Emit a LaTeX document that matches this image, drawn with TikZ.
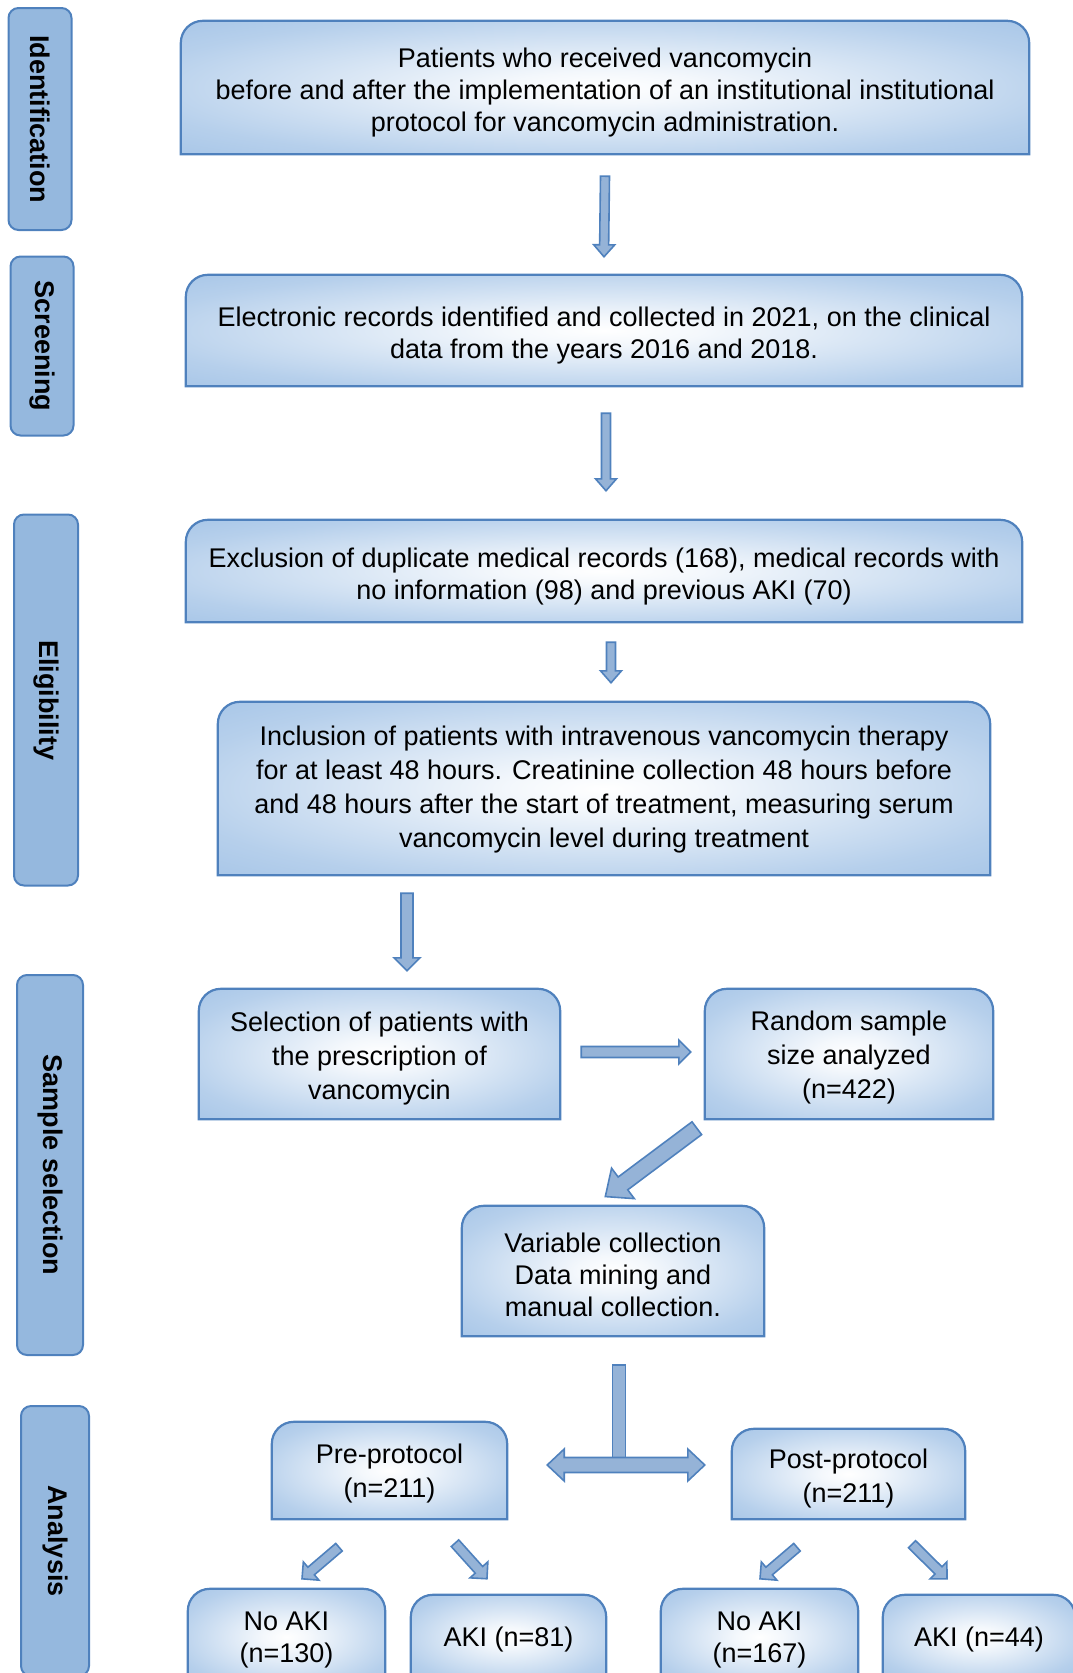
\documentclass[tikz,border=0pt]{standalone}
\usepackage{fontspec}
\setmainfont{Liberation Sans}
\usetikzlibrary{calc, backgrounds}

\definecolor{boxedge}{HTML}{4F81BD}
\definecolor{boxblue}{HTML}{8FB6E1}
\definecolor{arrowblue}{HTML}{95B3D7}
\definecolor{sideblue}{HTML}{95B8DE}

\pgfdeclareradialshading{boxshade}{\pgfpoint{0bp}{0bp}}{color(0bp)=(white); color(6bp)=(white!90!boxblue); color(28bp)=(white!35!boxblue); color(50bp)=(boxblue); color(72bp)=(boxblue)}

\tikzset{
  framebox/.style={inner sep=0pt},
  flowtext/.style={inner sep=0pt, align=center, font=\fontsize{27}{32}\selectfont},
  sidebox/.style={draw=boxedge, line width=2pt, fill=sideblue, rounded corners=10pt,
    inner sep=0pt, font=\bfseries\fontsize{27}{32}\selectfont},
  boxback/.style={draw=boxedge, line width=2.2pt, shading=boxshade},
  blockarrow/.style={draw=boxedge, line width=1.6pt, fill=arrowblue},
}

% box with rounded top corners round node #1
\newcommand\flowframe[1]{%
  \shadedraw[boxback] (#1.south west) -- ([yshift=-22pt]#1.north west)
    arc[start angle=180, end angle=90, radius=22pt] -- ([xshift=-22pt]#1.north east)
    arc[start angle=90, end angle=0, radius=22pt] -- (#1.south east) -- cycle;}

% block arrow: from, to, half shaft, half head, head length
\newcommand\blockarr[5]{%
  \draw[blockarrow] let \p1=#1, \p2=#2, \n1={atan2(\y2-\y1,\x2-\x1)}, \n2={veclen(\x2-\x1,\y2-\y1)} in
    [shift={(\p1)}, rotate=\n1] (0pt,#3pt) -- ({(\n2-#5)*1pt},#3pt) -- ({(\n2-#5)*1pt},#4pt)
    -- ({\n2*1pt},0pt) -- ({(\n2-#5)*1pt},-#4pt) -- ({(\n2-#5)*1pt},-#3pt) -- (0pt,-#3pt) -- cycle;}

% double block arrow: from, to, half shaft, half head, head length
\newcommand\dblarr[5]{%
  \draw[blockarrow] let \p1=#1, \p2=#2, \n1={atan2(\y2-\y1,\x2-\x1)}, \n2={veclen(\x2-\x1,\y2-\y1)} in
    [shift={(\p1)}, rotate=\n1] (0pt,0pt) -- (#5pt,#4pt) -- (#5pt,#3pt) -- ({(\n2-#5)*1pt},#3pt)
    -- ({(\n2-#5)*1pt},#4pt) -- ({\n2*1pt},0pt) -- ({(\n2-#5)*1pt},-#4pt) -- ({(\n2-#5)*1pt},-#3pt)
    -- (#5pt,-#3pt) -- (#5pt,-#4pt) -- cycle;}

\begin{document}
\begin{tikzpicture}[x=1pt,y=-1pt]
\useasboundingbox (0,0) rectangle (1073,1673);
%\draw[step=50,gray,very thin] (0,0) grid (1073,1673); %background grid
%---------------------------------------------------
\node[sidebox, minimum width=222pt, minimum height=63pt, rotate=-90] (sideIdent) at (40,119) {Identification};
\node[sidebox, minimum width=179pt, minimum height=63pt, rotate=-90] (sideScreen) at (42,346) {Screening};
\node[sidebox, minimum width=371pt, minimum height=64pt, rotate=-90] (sideElig) at (46,700) {Eligibility};
\node[sidebox, minimum width=380pt, minimum height=66pt, rotate=-90] (sideSample) at (50,1165) {Sample selection};
\node[sidebox, minimum width=270pt, minimum height=68pt, rotate=-90] (sideAnal) at (55,1541) {Analysis};
%---------------------------------------------------
\node[framebox, minimum width=848pt, minimum height=133pt] (patients) at (605,87.5) {};
\node[framebox, minimum width=836pt, minimum height=111pt] (records) at (604,330.5) {};
\node[framebox, minimum width=836pt, minimum height=102pt] (excl) at (604,571) {};
\node[framebox, minimum width=772pt, minimum height=173pt] (incl) at (604,788.5) {};
\node[framebox, minimum width=361pt, minimum height=130pt] (select) at (379.5,1054) {};
\node[framebox, minimum width=288pt, minimum height=130pt] (random) at (849,1054) {};
\node[framebox, minimum width=302pt, minimum height=130pt] (var) at (613,1271) {};
\node[framebox, minimum width=235pt, minimum height=97pt] (pre) at (389.5,1470.5) {};
\node[framebox, minimum width=233pt, minimum height=90pt] (post) at (848.5,1474) {};
\node[framebox, minimum width=197pt, minimum height=96pt] (prenoaki) at (286.5,1637) {};
\node[framebox, minimum width=195pt, minimum height=84pt] (preaki) at (508.5,1637) {};
\node[framebox, minimum width=197pt, minimum height=96pt] (postnoaki) at (759.5,1637) {};
\node[framebox, minimum width=192pt, minimum height=84pt] (postaki) at (979,1637) {};
%---------------------------------------------------
\begin{scope}[on background layer]
\flowframe{patients}
\flowframe{records}
\flowframe{excl}
\flowframe{incl}
\flowframe{select}
\flowframe{random}
\flowframe{var}
\flowframe{pre}
\flowframe{post}
\flowframe{prenoaki}
\flowframe{preaki}
\flowframe{postnoaki}
\flowframe{postaki}
\end{scope}
%---------------------------------------------------
\node[flowtext] (patientsText) at ([yshift=-5.3pt]patients.center)
  {Patients who received vancomycin\\ before and after the implementation of an institutional institutional\\ protocol for vancomycin administration.};
\node[flowtext] (recordsText) at ([yshift=-5.3pt]records.center)
  {Electronic records identified and collected in 2021, on the clinical\\ data from the years 2016 and 2018.};
\node[flowtext] (exclText) at ([yshift=-5.9pt]excl.center)
  {Exclusion of duplicate medical records (168), medical records with\\ no information (98) and previous AKI (70)};
\node[flowtext, font=\fontsize{27}{34}\selectfont] (inclText) at ([yshift=-1pt]incl.center)
  {Inclusion of patients with intravenous vancomycin therapy\\ for at least 48 hours. Creatinine collection 48 hours before\\ and 48 hours after the start of treatment, measuring serum\\ vancomycin level during treatment};
\node[flowtext, font=\fontsize{27}{34}\selectfont] (selectText) at ([yshift=-4.3pt]select.center)
  {Selection of patients with\\ the prescription of\\ vancomycin};
\node[flowtext, font=\fontsize{27}{34}\selectfont] (randomText) at ([yshift=-3.2pt]random.center)
  {Random sample\\ size analyzed\\ (n=422)};
\node[flowtext] (varText) at ([yshift=-4.3pt]var.center)
  {Variable collection\\ Data mining and\\ manual collection.};
\node[flowtext, font=\fontsize{27}{34}\selectfont] (preText) at ([yshift=-2.7pt]pre.center) {Pre-protocol\\ (n=211)};
\node[flowtext, font=\fontsize{27}{34}\selectfont] (postText) at ([yshift=-4.8pt]post.center) {Post-protocol\\ (n=211)};
\node[flowtext] (prenoakiText) at ([yshift=-2.7pt]prenoaki.center) {No AKI\\ (n=130)};
\node[flowtext] (preakiText) at ([yshift=-2.7pt]preaki.center) {AKI (n=81)};
\node[flowtext] (postnoakiText) at ([yshift=-2.7pt]postnoaki.center) {No AKI\\ (n=167)};
\node[flowtext] (postakiText) at ([yshift=-2.7pt]postaki.center) {AKI (n=44)};
%---------------------------------------------------
\blockarr{([yshift=-22pt]patients.south)}{([yshift=18pt]records.north)}{4.5}{10.5}{12}
\blockarr{([xshift=2pt,yshift=-27pt]records.south)}{([xshift=2pt,yshift=29pt]excl.north)}{4.5}{10.5}{12}
\blockarr{([xshift=7pt,yshift=-20pt]excl.south)}{([xshift=7pt,yshift=19pt]incl.north)}{4.5}{10.5}{12}
\blockarr{([xshift=-197pt,yshift=-18pt]incl.south)}{([xshift=27.5pt,yshift=18pt]select.north)}{6}{13}{13}
\blockarr{([xshift=21pt,yshift=2pt]select.east)}{([xshift=-14pt,yshift=2pt]random.west)}{5.5}{12}{12}
\blockarr{([xshift=-8pt,yshift=-9pt]random.south west)}{([xshift=-8pt,yshift=9pt]var.north)}{8}{19}{22}
%---------------------------------------------------
\draw[blockarrow] ([xshift=-0.5pt,yshift=-29pt]var.south) rectangle ([xshift=12.5pt,yshift=-122pt]var.south);
\dblarr{([xshift=40pt,yshift=5.5pt]pre.east)}{([xshift=-27pt,yshift=9pt]post.west)}{7.5}{16}{17}
%---------------------------------------------------
\blockarr{([xshift=-50.5pt,yshift=-28pt]pre.south)}{([xshift=15.5pt,yshift=10pt]prenoaki.north)}{5}{12}{12}
\blockarr{([xshift=65.5pt,yshift=-24pt]pre.south)}{([xshift=-21.5pt,yshift=16pt]preaki.north)}{5}{12}{12}
\blockarr{([xshift=-51.5pt,yshift=-28pt]post.south)}{([xshift=0.5pt,yshift=10pt]postnoaki.north)}{5}{12}{12}
\blockarr{([xshift=63.5pt,yshift=-25pt]post.south)}{([xshift=-32pt,yshift=16pt]postaki.north)}{5}{12}{12}

\end{tikzpicture}
\end{document}
